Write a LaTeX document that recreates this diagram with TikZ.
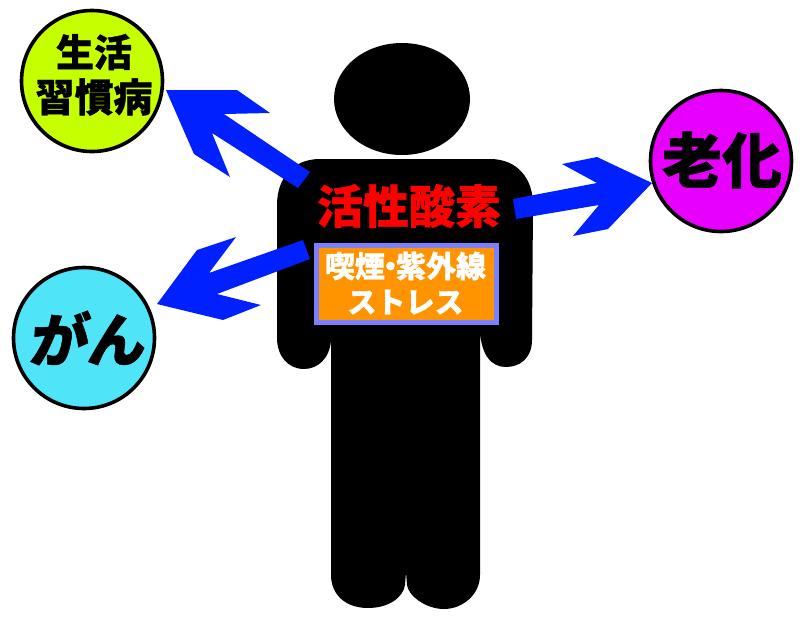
\documentclass[tikz,border=0pt]{standalone}
\usepackage{fontspec}
\newfontfamily\cjkheavy[FakeBold=0.9]{Noto Sans CJK JP Black}
\newfontfamily\cjkslant[FakeSlant=0.14,FakeBold=0.9]{Noto Sans CJK JP Black}
\definecolor{arrowblue}{HTML}{0020FF}
\definecolor{limefill}{HTML}{C6FF00}
\definecolor{cyanfill}{HTML}{50E4F8}
\definecolor{magentafill}{HTML}{E800FF}
\definecolor{orangefill}{HTML}{FF9400}
\definecolor{boxedge}{HTML}{7B80FF}
\tikzset{
  disease/.style={circle,draw=black,line width=3.6pt,minimum size=141pt,inner sep=0pt,align=center},
  blockarrow/.style={fill=arrowblue,draw=none},
  figure/.style={fill=black,draw=none},
  jp/.style={inner sep=0pt,align=center,font=\cjkheavy}
}
\begin{document}
\begin{tikzpicture}[x=1pt,y=-1pt]
\useasboundingbox (0,0) rectangle (800,633);
\fill[white] (0,0) rectangle (800,633);
% figure
\fill[figure] (402,99) ellipse [x radius=68, y radius=56];
\fill[figure] (320,159) -- (490,159)
  .. controls (517,159) and (533,178) .. (533,205)
  -- (532,340) .. controls (532,358) and (520,367) .. (506,367)
  .. controls (492,367) and (481,356) .. (480,330)
  -- (480,575) .. controls (480,595) and (462,609) .. (444,609)
  .. controls (425,609) and (408,595) .. (407,585)
  -- (406,572) -- (405,585)
  .. controls (403,598) and (388,608) .. (368,608)
  .. controls (346,608) and (331,595) .. (331,575)
  -- (331,340) .. controls (330,358) and (318,369) .. (304,369)
  .. controls (288,369) and (277,356) .. (277,338)
  -- (277,205) .. controls (277,178) and (293,159) .. (320,159) -- cycle;
% arrows
\fill[blockarrow] (166,90) -- (237,90) -- (270,113) -- (224,114) -- (310,172) -- (298,188) -- (212,133) -- (230,177) -- (194,154) -- cycle;
\fill[blockarrow] (157,304) -- (197,250) -- (236,237) -- (209,273) -- (303,240) -- (310,259) -- (217,294) -- (261,305) -- (223,320) -- cycle;
\fill[blockarrow] (652,183) -- (597,157) -- (562,164) -- (597,183) -- (513,199) -- (516,219) -- (599,205) -- (573,236) -- (608,229) -- cycle;
% circles
\node[disease,fill=limefill] (lifestyle) at (92,81) {};
\node[jp,font=\cjkheavy\fontsize{38}{38}\selectfont] (lifestyleA) at (94,52) {生活};
\node[jp,font=\cjkheavy\fontsize{39}{39}\selectfont] (lifestyleB) at (94,97) {習慣病};
\node[disease,fill=cyanfill] (cancer) at (84,338) {};
\node[jp,font=\cjkslant\fontsize{58}{58}\selectfont] (cancerT) at (86,338) {がん};
\node[disease,fill=magentafill] (aging) at (721,161) {};
\node[jp,font=\cjkheavy\fontsize{60}{60}\selectfont] (agingT) at (722,160) {老化};
% labels
\node[jp,text=red,font=\cjkheavy\fontsize{46}{46}\selectfont] (ros) at (409,206) {活性酸素};
\node[draw=boxedge,fill=orangefill,line width=5pt,minimum width=180pt,minimum height=77pt,inner sep=0pt] (cause) at (406.5,284) {};
\node[jp,text=white,font=\cjkheavy\fontsize{30}{30}\selectfont] (causeA) at (405.5,266) {喫煙\kern-9.5pt ・\kern-9.5pt 紫外線};
\node[jp,text=white,font=\cjkheavy\fontsize{29}{29}\selectfont] (causeB) at (405.5,302) {ストレス};
\end{tikzpicture}
\end{document}
